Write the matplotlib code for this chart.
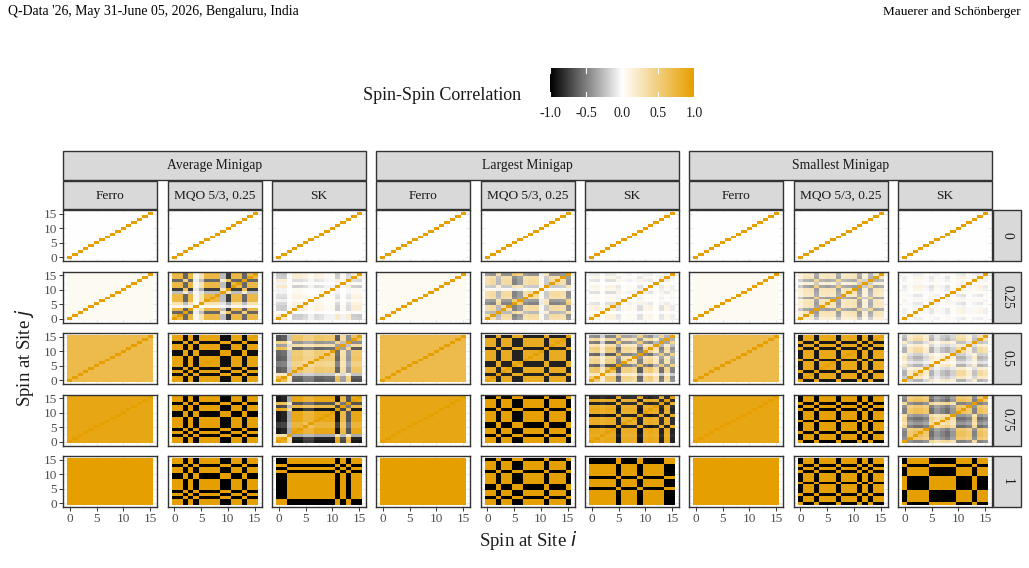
import numpy as np
import matplotlib
matplotlib.use("Agg")
import matplotlib.pyplot as plt
from matplotlib.colors import LinearSegmentedColormap
from matplotlib.patches import Rectangle

plt.rcParams['font.family'] = ['Liberation Serif', 'DejaVu Serif']

W, H = 1029, 568
n_sites = 16
gap_labels = ["Average Minigap", "Largest Minigap", "Smallest Minigap"]
method_labels = ["Ferro", "MQO 5/3, 0.25", "SK"]
s_labels = ["0", "0.25", "0.5", "0.75", "1"]
cbar_ticks = [-1.0, -0.5, 0.0, 0.5, 1.0]
site_ticks = [0, 5, 10, 15]

# Ferro: uniform off-diagonal correlation per schedule value s
ferro_offdiag = [0.0, 0.05, 0.70, 0.92, 1.0]

# Site magnetisation patterns (rows: s = 0.25, 0.5, 0.75, 1); correlation ~ m_i * m_j
mqo_avg = [
    [0.85, 0.85, -0.7, 0.85, 0.1, 0.35, 0.85, 0.85, 0.85, -0.3, -0.9, 0.85, 0.85, -0.7, 0.85, 0.85],
    [0.97, 0.97, -0.97, 0.97, -0.97, 0.97, 0.97, 0.97, 0.97, -0.97, -0.97, 0.97, 0.97, -0.97, 0.97, 0.97],
    [0.99, 0.99, -0.99, 0.99, -0.99, 0.99, 0.99, 0.99, 0.99, -0.99, -0.99, 0.99, 0.99, -0.99, 0.99, 0.99],
    [1, 1, -1, 1, -1, 1, 1, 1, 1, -1, -1, 1, 1, -1, 1, 1],
]
sk_avg = [
    [-0.45, -0.5, -0.05, 0.4, 0.4, 0.3, 0.1, 0.3, 0.25, 0.1, 0.1, -0.45, 0.1, -0.35, 0.4, 0.45],
    [-0.85, -0.8, -0.3, 0.75, 0.75, 0.6, 0.6, 0.75, 0.75, 0.7, 0.7, -0.8, 0.45, -0.55, 0.8, 0.8],
    [-0.95, -0.9, -0.35, 0.95, 0.95, 0.8, 0.8, 0.95, 0.95, 0.95, 0.95, -0.95, 0.75, -0.7, 0.95, 0.95],
    [-1, -1, 1, 1, 1, 1, 1, 1, 1, 1, 1, -1, 1, -1, 1, 1],
]
mqo_large = [
    [0.55, 0.6, -0.45, 0.6, 0.6, -0.8, -0.65, 0.55, 0.6, 0.6, 0.1, -0.35, 0.6, 0.6, 0.55, -0.7],
    [0.93, 0.93, -0.93, 0.93, 0.93, -0.93, -0.93, 0.93, 0.93, 0.93, 0.93, -0.93, 0.93, 0.93, 0.93, -0.93],
    [0.99, 0.99, -0.99, 0.99, 0.99, -0.99, -0.99, 0.99, 0.99, 0.99, 0.99, -0.99, 0.99, 0.99, 0.99, -0.99],
    [1, 1, -1, 1, 1, -1, -1, 1, 1, 1, 1, -1, 1, 1, 1, -1],
]
sk_large = [
    [0.3, 0.35, 0.05, 0.4, 0.4, -0.3, 0.1, 0.2, 0.1, -0.35, 0.2, 0.3, 0.05, -0.3, 0.25, -0.2],
    [0.7, 0.75, 0.3, 0.8, 0.8, -0.8, 0.6, 0.6, 0.5, -0.8, 0.6, 0.7, 0.4, -0.7, 0.5, -0.6],
    [0.95, 0.95, 0.9, 0.95, 0.95, -0.95, 0.9, 0.9, 0.9, -0.95, 0.9, 0.95, 0.9, -0.9, 0.9, -0.9],
    [1, 1, 1, 1, 1, -1, 1, 1, 1, -1, 1, 1, 1, 1, -1, -1],
]
mqo_small = [
    [0.3, 0.5, 0.55, -0.7, 0.5, 0.55, 0.5, -0.7, 0.45, 0.5, 0.55, -0.7, 0.3, -0.6, 0.5, 0.45],
    [-0.95, 0.95, 0.95, -0.95, 0.95, 0.95, 0.95, -0.95, 0.95, 0.95, 0.95, -0.95, 0.95, -0.95, 0.95, 0.95],
    [-1, 1, 1, -1, 1, 1, 1, -1, 1, 1, 1, -1, 1, -1, 1, 1],
    [-1, 1, 1, -1, 1, 1, 1, -1, 1, 1, 1, -1, 1, -1, 1, 1],
]
sk_small = [
    [0.2, -0.1, -0.3, -0.3, 0.1, 0.3, -0.2, 0.1, 0.3, -0.1, -0.3, -0.4, 0.1, -0.2, -0.3, 0.2],
    [0.5, -0.4, -0.6, -0.6, -0.3, 0.5, 0.2, 0.4, 0.5, 0.3, -0.6, -0.6, -0.3, 0.4, -0.6, -0.5],
    [0.6, -0.7, -0.8, -0.8, -0.7, 0.7, 0.5, 0.6, 0.7, 0.5, -0.8, -0.8, -0.7, 0.6, -0.8, -0.7],
    [1, -1, -1, -1, -1, 1, 1, 1, 1, 1, -1, -1, -1, 1, -1, -1],
]

patterns = {
    (0, 1): mqo_avg, (0, 2): sk_avg,
    (1, 1): mqo_large, (1, 2): sk_large,
    (2, 1): mqo_small, (2, 2): sk_small,
}

orange = "#E69F00"
cmap = LinearSegmentedColormap.from_list(
    "corr", [(0.0, "#000000"), (0.5, "#FFFFFF"), (1.0, orange)])


def corr_matrix(gap, method, row):
    if row == 0:
        return np.eye(n_sites)
    if method == 0:
        c = np.full((n_sites, n_sites), ferro_offdiag[row])
    else:
        m = np.asarray(patterns[(gap, method)][row - 1], dtype=float)
        c = np.outer(m, m)
    np.fill_diagonal(c, 1.0)
    return c


fig = plt.figure(figsize=(W / 100, H / 100), dpi=100)


def box(x0, y0, x1, y1):
    return [x0 / W, 1 - y1 / H, (x1 - x0) / W, (y1 - y0) / H]


def fig_rect(x0, y0, x1, y1, **kw):
    fig.patches.append(Rectangle((x0 / W, 1 - y1 / H), (x1 - x0) / W, (y1 - y0) / H,
                                 transform=fig.transFigure, **kw))


text_col = "#1A1A1A"
tick_col = "#4D4D4D"
strip_fill = "#D9D9D9"
edge = "#333333"

col_x0 = []
for g in range(3):
    for c in range(3):
        col_x0.append(63 + g * 313 + c * 104.5)
pw = 94
row_y0 = [210 + r * 61.5 for r in range(5)]
ph = 51
exp = 0.05 * n_sites

for r in range(5):
    for k in range(9):
        g, mth = divmod(k, 3)
        x0 = col_x0[k]
        y0 = row_y0[r]
        ax = fig.add_axes(box(x0, y0, x0 + pw, y0 + ph))
        ax.set_axisbelow(True)
        C = corr_matrix(g, mth, r)
        ax.imshow(C, cmap=cmap, vmin=-1, vmax=1, origin="lower",
                  extent=(-0.5, n_sites - 0.5, -0.5, n_sites - 0.5),
                  aspect="auto", interpolation="nearest", zorder=2)
        ax.set_xlim(-0.5 - exp, n_sites - 0.5 + exp)
        ax.set_ylim(-0.5 - exp, n_sites - 0.5 + exp)
        ax.set_xticks(site_ticks)
        ax.set_yticks(site_ticks)
        ax.set_xticks([2.5, 7.5, 12.5], minor=True)
        ax.set_yticks([2.5, 7.5, 12.5], minor=True)
        ax.grid(True, which="major", color="#EBEBEB", lw=0.8)
        ax.grid(True, which="minor", color="#F2F2F2", lw=0.5)
        ax.tick_params(which="minor", length=0)
        ax.tick_params(which="major", length=3, width=0.7, color=edge,
                       labelsize=9.5, labelcolor=tick_col, pad=1.5)
        if r < 4:
            ax.tick_params(axis="x", length=0, labelbottom=False)
        if k > 0:
            ax.tick_params(axis="y", length=0, labelleft=False)
        for sp in ax.spines.values():
            sp.set_color(edge)
            sp.set_linewidth(1.0)
            sp.set_zorder(3)

# top strips (gap) and method strips
for g in range(3):
    gx0 = col_x0[g * 3]
    gx1 = col_x0[g * 3 + 2] + pw
    fig_rect(gx0, 151, gx1, 180, facecolor=strip_fill, edgecolor=edge, lw=1.0)
    fig.text((gx0 + gx1) / 2 / W, 1 - 165.5 / H, gap_labels[g], ha="center", va="center",
             fontsize=9.8, color=text_col)
    for c in range(3):
        x0 = col_x0[g * 3 + c]
        fig_rect(x0, 181, x0 + pw, 209.5, facecolor=strip_fill, edgecolor=edge, lw=1.0)
        fig.text((x0 + pw / 2) / W, 1 - 195.5 / H, method_labels[c], ha="center",
                 va="center", fontsize=9.6, color=text_col)

# right strips (s)
for r in range(5):
    y0 = row_y0[r]
    fig_rect(992.5, y0, 1021, y0 + ph, facecolor=strip_fill, edgecolor=edge, lw=1.0)
    fig.text(1007 / W, 1 - (y0 + ph / 2) / H, s_labels[r], ha="center", va="center",
             rotation=-90, fontsize=9.8, color=text_col)

# axis titles
fig.text(528 / W, 1 - 540 / H, "Spin at Site $\\mathit{i}$", ha="center", va="center",
         fontsize=13.5, color=text_col)
fig.text(24 / W, 1 - 358 / H, "Spin at Site $\\mathit{j}$", ha="center", va="center",
         rotation=90, fontsize=13.5, color=text_col)

# header
fig.text(8 / W, 1 - 12 / H, "Q-Data '26, May 31-June 05, 2026, Bengaluru, India",
         ha="left", va="center", fontsize=9.9, color="#000000")
fig.text(1021 / W, 1 - 12 / H, "Mauerer and Schönberger", ha="right", va="center",
         fontsize=9.5, color="#000000")

# colour bar legend
cax = fig.add_axes(box(550, 68, 694, 97))
grad = np.linspace(-1, 1, 300)[None, :]
cax.imshow(grad, cmap=cmap, vmin=-1, vmax=1, aspect="auto",
           extent=(-1, 1, 0, 1), interpolation="bilinear")
for t in cbar_ticks:
    cax.plot([t, t], [0, 0.18], color="white", lw=0.8)
    cax.plot([t, t], [0.82, 1], color="white", lw=0.8)
cax.set_xlim(-1, 1)
cax.set_ylim(0, 1)
cax.set_xticks(cbar_ticks)
cax.set_xticklabels([f"{t:.1f}" for t in cbar_ticks])
cax.set_yticks([])
cax.tick_params(axis="x", length=0, labelsize=10, labelcolor=text_col, pad=7)
for sp in cax.spines.values():
    sp.set_visible(False)
fig.text(442 / W, 1 - 96 / H, "Spin-Spin Correlation", ha="center", va="center",
         fontsize=13, color=text_col)

fig.savefig("out.png", dpi=100)
